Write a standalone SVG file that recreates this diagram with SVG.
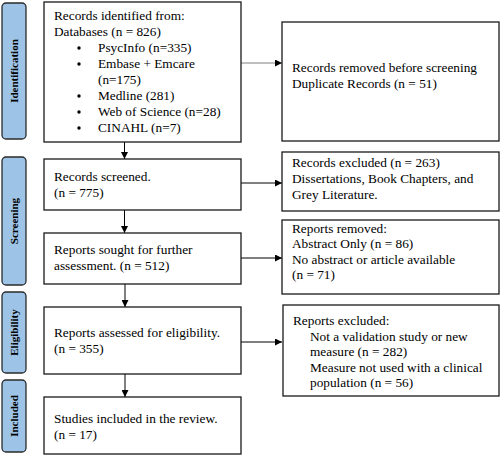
<svg xmlns="http://www.w3.org/2000/svg" width="500" height="455" viewBox="0 0 500 455">
<defs>
<marker id="ah" viewBox="0 0 10 10" refX="10" refY="5" markerWidth="7" markerHeight="7" markerUnits="userSpaceOnUse" orient="auto"><path d="M0,0 L10,5 L0,10 z" fill="#000"/></marker>
<style>
.bar{fill:#9dc3e6;stroke:#2b2b2b;stroke-width:1.3}
.box{fill:#fff;stroke:#1a1a1a;stroke-width:1.3}
.t{font-family:"Liberation Serif","Times New Roman",serif;font-size:13.3px;fill:#000}
.lab{font-family:"Liberation Serif","Times New Roman",serif;font-size:11px;font-weight:bold;fill:#000;text-anchor:middle}
.c{stroke:#000;stroke-width:1;fill:none;marker-end:url(#ah)}
</style>
</defs>
<rect width="500" height="455" fill="#fff"/>
<g id="phase-identification"><rect class="bar" x="2" y="3" width="24" height="136" rx="4"/><text class="lab" transform="translate(17.5,71) rotate(-90)">Identification</text></g>
<g id="phase-screening"><rect class="bar" x="2" y="157" width="24" height="128" rx="4"/><text class="lab" transform="translate(17.5,221) rotate(-90)">Screening</text></g>
<g id="phase-eligibility"><rect class="bar" x="2" y="292" width="24" height="81" rx="4"/><text class="lab" transform="translate(17.5,332.5) rotate(-90)">Eligibility</text></g>
<g id="phase-included"><rect class="bar" x="2" y="380" width="24" height="72" rx="4"/><text class="lab" transform="translate(17.5,416) rotate(-90)">Included</text></g>

<g id="connectors">
<line class="c" x1="241" y1="63" x2="282" y2="63" style="stroke:#808080"/>
<line class="c" x1="241" y1="183" x2="282" y2="183"/>
<line class="c" x1="241" y1="258" x2="282" y2="258"/>
<line class="c" x1="241" y1="342" x2="282" y2="342"/>
<line class="c" x1="124.5" y1="133" x2="124.5" y2="159"/>
<line class="c" x1="124.5" y1="210" x2="124.5" y2="233"/>
<line class="c" x1="125" y1="284" x2="125" y2="307"/>
<line class="c" x1="125" y1="371" x2="125" y2="397"/>
</g>

<g id="identified">
<rect class="box" x="44" y="2" width="197" height="140"/>
<text class="t" x="54" y="19.5">Records identified from:</text>
<text class="t" x="54" y="35.5">Databases (n = 826)</text>
<g class="t">
<circle cx="79" cy="48" r="1.7"/><text class="t" x="98" y="52">PsycInfo (n=335)</text>
<circle cx="79" cy="64" r="1.7"/><text class="t" x="98" y="68">Embase + Emcare</text>
<text class="t" x="98" y="84">(n=175)</text>
<circle cx="79" cy="96" r="1.7"/><text class="t" x="98" y="100">Medline (281)</text>
<circle cx="79" cy="112" r="1.7"/><text class="t" x="98" y="116">Web of Science (n=28)</text>
<circle cx="79" cy="128" r="1.7"/><text class="t" x="98" y="132">CINAHL (n=7)</text>
</g>
</g>
<g id="removed">
<rect class="box" x="282" y="22" width="217" height="119"/>
<text class="t" x="292" y="72">Records removed before screening</text>
<text class="t" x="292" y="87.5">Duplicate Records (n = 51)</text>
</g>
<g id="screened">
<rect class="box" x="44" y="159" width="197" height="51"/>
<text class="t" x="54" y="181">Records screened.</text>
<text class="t" x="54" y="197">(n = 775)</text>
</g>
<g id="excluded1">
<rect class="box" x="282" y="152" width="217" height="59"/>
<text class="t" x="292" y="167">Records excluded (n = 263)</text>
<text class="t" x="292" y="183">Dissertations, Book Chapters, and</text>
<text class="t" x="292" y="198.5">Grey Literature.</text>
</g>
<g id="sought">
<rect class="box" x="44" y="233" width="197" height="51"/>
<text class="t" x="54" y="254">Reports sought for further</text>
<text class="t" x="54" y="270">assessment. (n = 512)</text>
</g>
<g id="reports-removed">
<rect class="box" x="282" y="220" width="217" height="74"/>
<text class="t" x="292" y="232.5">Reports removed:</text>
<text class="t" x="292" y="248">Abstract Only (n = 86)</text>
<text class="t" x="292" y="263.5">No abstract or article available</text>
<text class="t" x="292" y="279">(n = 71)</text>
</g>
<g id="assessed">
<rect class="box" x="44" y="307" width="197" height="67"/>
<text class="t" x="54" y="337">Reports assessed for eligibility.</text>
<text class="t" x="54" y="353">(n = 355)</text>
</g>
<g id="excluded2">
<rect class="box" x="283" y="305" width="216" height="91"/>
<text class="t" x="293" y="325">Reports excluded:</text>
<text class="t" x="310" y="340.5">Not a validation study or new</text>
<text class="t" x="310" y="356">measure (n = 282)</text>
<text class="t" x="310" y="371.5">Measure not used with a clinical</text>
<text class="t" x="310" y="387">population (n = 56)</text>
</g>
<g id="included">
<rect class="box" x="44" y="397" width="197" height="57"/>
<text class="t" x="54" y="423">Studies included in the review.</text>
<text class="t" x="54" y="439">(n = 17)</text>
</g>
</svg>
